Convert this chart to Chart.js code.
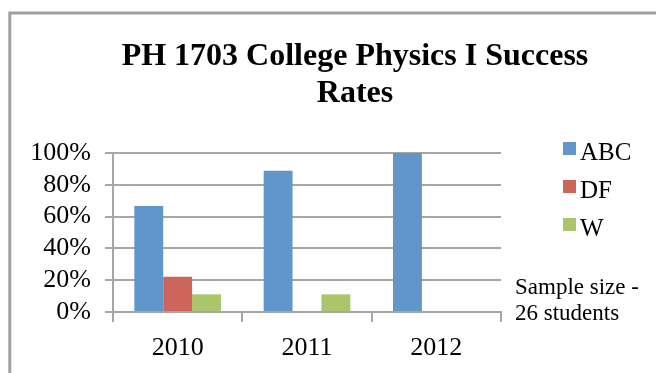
<!DOCTYPE html>
<html>
<head>
<meta charset="utf-8">
<script src="https://cdn.jsdelivr.net/npm/chart.js@4"></script>
<style>
  html, body { margin: 0; padding: 0; background: #fff; }
  #wrap { position: relative; width: 656px; height: 373px; }
</style>
</head>
<body>
<div id="wrap"><canvas id="chart" width="656" height="373"></canvas></div>
<script>
// success rates by year, percent of enrolled students
const years = ['2010', '2011', '2012'];
const abc = [66.7, 88.9, 100];
const df = [22.2, 0, 0];
const w = [11.1, 11.1, 0];
const seriesNames = ['ABC', 'DF', 'W'];
const seriesColors = ['#6096ca', '#cd655c', '#aac56a'];
const yTicks = [0, 20, 40, 60, 80, 100];
const titleLines = ['PH 1703 College Physics I Success', 'Rates'];
const noteLines = ['Sample size -', '26 students'];

const SERIF = '"Liberation Serif", "Times New Roman", serif';
const GRID = '#a6a6a6';

// frame, title, legend and sample note
const decorations = {
  id: 'decorations',
  afterDraw(chart) {
    const ctx = chart.ctx;
    ctx.save();

    ctx.strokeStyle = '#a0a0a0';
    ctx.lineWidth = 3;
    ctx.beginPath();
    ctx.moveTo(9.8, 400);
    ctx.lineTo(9.8, 13);
    ctx.lineTo(700, 13);
    ctx.stroke();

    ctx.fillStyle = '#000';
    ctx.textAlign = 'center';
    ctx.textBaseline = 'alphabetic';
    ctx.font = 'bold 32px ' + SERIF;
    titleLines.forEach((t, i) => ctx.fillText(t, 355, 65 + i * 37));

    ctx.textAlign = 'left';
    ctx.font = '25px ' + SERIF;
    seriesNames.forEach((name, i) => {
      const y = 142 + i * 38;
      ctx.fillStyle = seriesColors[i];
      ctx.fillRect(563, y, 13, 13);
      ctx.fillStyle = '#000';
      ctx.fillText(name, 580, y + 18);
    });

    ctx.font = '23px ' + SERIF;
    noteLines.forEach((t, i) => ctx.fillText(t, 515, 294 + i * 26));

    ctx.restore();
  }
};

new Chart(document.getElementById('chart'), {
  type: 'bar',
  data: {
    labels: years,
    datasets: [abc, df, w].map((data, i) => ({
      label: seriesNames[i],
      data,
      backgroundColor: seriesColors[i],
      borderWidth: 0,
      barPercentage: 1.0,
      categoryPercentage: 0.67,
    }))
  },
  options: {
    responsive: false,
    animation: false,
    layout: { padding: { left: 28, right: 155, top: 153, bottom: 0 } },
    plugins: {
      legend: { display: false },
      title: { display: false },
      tooltip: { enabled: false },
    },
    scales: {
      x: {
        offset: true,
        grid: {
          display: true,
          offset: true,
          drawOnChartArea: false,
          drawTicks: true,
          tickLength: 10,
          lineWidth: 2,
          color: ctx => (ctx.index === years.length ? 'rgba(0,0,0,0)' : GRID),
        },
        border: { display: true, color: GRID, width: 2 },
        ticks: {
          color: '#000',
          padding: 11,
          font: { family: SERIF, size: 26 },
        },
        afterFit(scale) { scale.height = 61; },
      },
      y: {
        min: 0,
        max: 100,
        afterBuildTicks(scale) { scale.ticks = yTicks.map(v => ({ value: v })); },
        grid: {
          color: GRID,
          lineWidth: 2,
          tickLength: 8,
        },
        border: { display: true, color: GRID, width: 2 },
        ticks: {
          color: '#000',
          padding: 14,
          autoSkip: false,
          font: { family: SERIF, size: 26 },
          callback: v => v + '%',
        },
        afterFit(scale) { scale.width = 85; },
      }
    }
  },
  plugins: [decorations]
});
</script>
</body>
</html>
